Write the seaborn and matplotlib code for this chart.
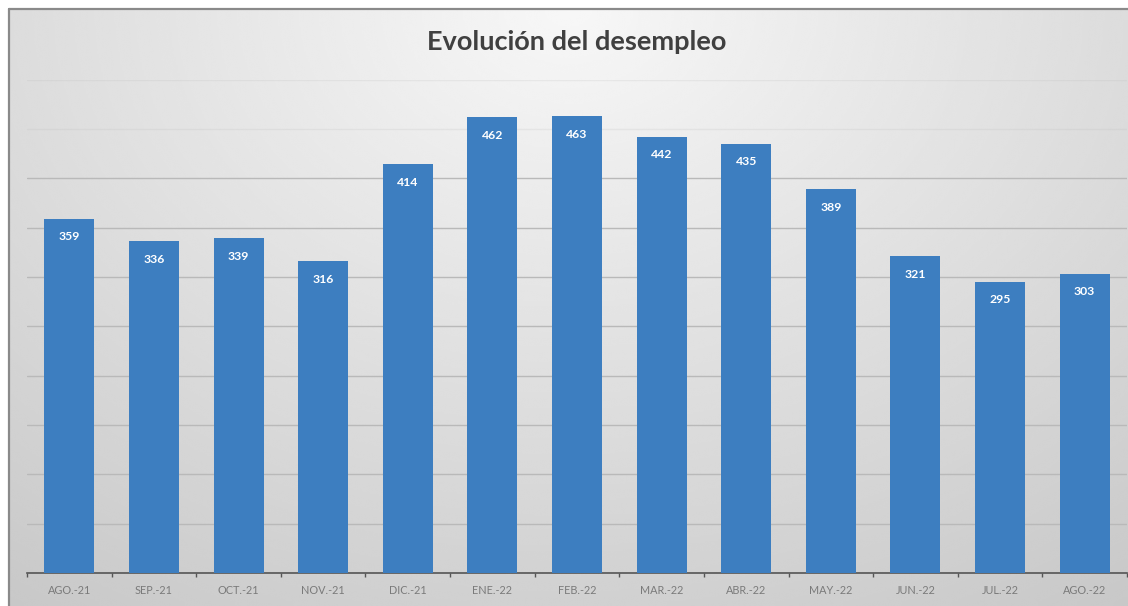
import numpy as np
import pandas as pd
import matplotlib.pyplot as plt
import seaborn as sns
from matplotlib.lines import Line2D
from matplotlib.ticker import MultipleLocator

# --- data ---
months = ['AGO.-21', 'SEP.-21', 'OCT.-21', 'NOV.-21', 'DIC.-21', 'ENE.-22', 'FEB.-22',
          'MAR.-22', 'ABR.-22', 'MAY.-22', 'JUN.-22', 'JUL.-22', 'AGO.-22']
desempleo = [359, 336, 339, 316, 414, 462, 463, 442, 435, 389, 321, 295, 303]
title = 'Evolución del desempleo'

df = pd.DataFrame({'mes': months, 'valor': desempleo})

sns.set_theme(style='white')
plt.rcParams['font.family'] = ['Lato', 'DejaVu Sans']

W, H = 1128, 606
fig = plt.figure(figsize=(W / 100, H / 100), dpi=100)
fig.patch.set_facecolor('white')

# --- gradient background of the chart area (starts at the border) ---
bx0, by0 = 9 / W, 9 / H
bg = fig.add_axes([bx0, 0, 1 - bx0, 1 - by0], zorder=0)
yy, xx = np.mgrid[0:1:300j, 0:1:600j]
r = np.sqrt(((xx - 0.5) / 0.75) ** 2 + (yy / 1.05) ** 2)
shade = np.clip(0.97 - 0.16 * r, 0, 1)
bg.imshow(shade, cmap='gray', vmin=0, vmax=1, aspect='auto',
          extent=[0, 1, 1, 0], interpolation='bicubic')
bg.set_axis_off()

# border (top and left visible, the rest is cropped)
fig.add_artist(Line2D([bx0, 1], [1 - by0, 1 - by0], transform=fig.transFigure,
                      color='#8a8a8a', lw=1.6, zorder=5))
fig.add_artist(Line2D([bx0, bx0], [0, 1 - by0], transform=fig.transFigure,
                      color='#8a8a8a', lw=1.6, zorder=5))

# --- bar chart ---
left, right = 27 / W, 1127 / W
bottom, top = (H - 573) / H, (H - 79.5) / H
ax = fig.add_axes([left, bottom, right - left, top - bottom], zorder=2)
ax.patch.set_alpha(0)

sns.barplot(data=df, x='mes', y='valor', color='#3d7ec0', saturation=1,
            width=0.59, linewidth=0, edgecolor='none', ax=ax, zorder=3)

ax.set_ylim(0, 500)
ax.set_xlim(-0.5, len(months) - 0.5)
ax.yaxis.set_major_locator(MultipleLocator(50))
ax.grid(axis='y', color='#b9b9b9', lw=1.0, zorder=1)
for gl, yv in zip(ax.get_ygridlines(), ax.get_yticks()):
    if yv >= 450:
        gl.set_alpha(0.2)
ax.set_axisbelow(True)
ax.set_yticklabels([])
ax.tick_params(axis='y', length=0)

for s in ['top', 'right', 'left']:
    ax.spines[s].set_visible(False)
ax.spines['bottom'].set_color('#555555')
ax.spines['bottom'].set_linewidth(1.2)

ax.set_xlabel('')
ax.set_ylabel('')
ax.tick_params(axis='x', which='major', length=0, pad=9,
               labelsize=7.8, labelcolor='#7a7a7a')
ax.set_xticks(np.arange(-0.5, len(months), 1.0), minor=True)
ax.tick_params(axis='x', which='minor', length=3, width=1, color='#555555',
               direction='out', bottom=True)

for i, v in enumerate(df['valor']):
    ax.annotate(str(v), (i, v), xytext=(0, -13), textcoords='offset points',
                ha='center', va='center', color='white', fontsize=8.8,
                fontweight='bold', zorder=4)

fig.text(0.511, 1 - 42 / H, title, ha='center', va='center',
         fontsize=19.5, fontweight='bold', color='#404040', zorder=6)

fig.savefig('out.png', dpi=100)
